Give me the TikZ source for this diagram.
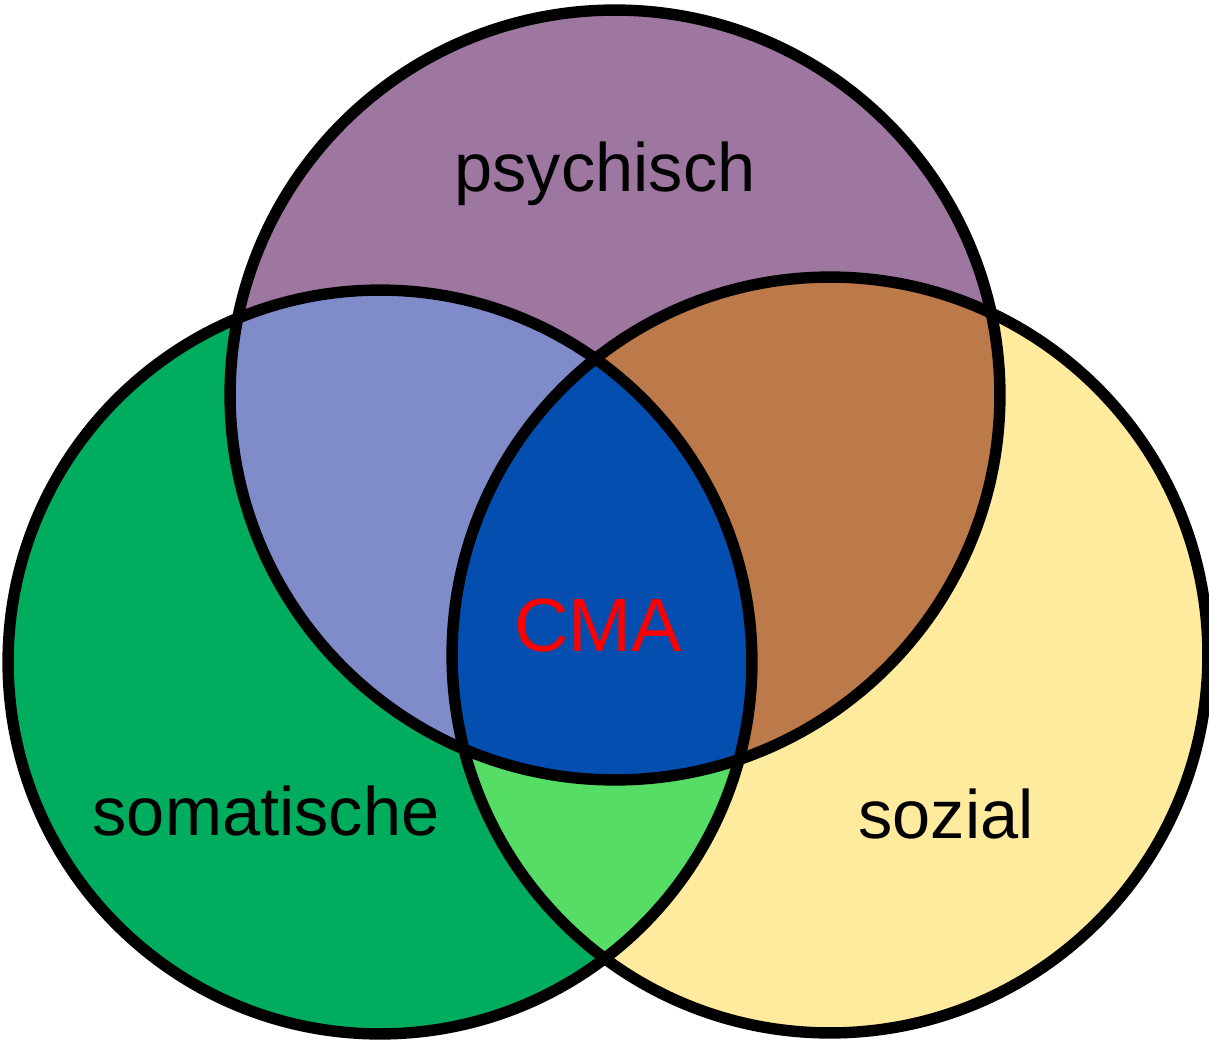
\documentclass[tikz,border=0pt]{standalone}
\usepackage{fontspec}
\setmainfont{Liberation Sans}
\begin{document}
\begin{tikzpicture}[x=0.02cm, y=-0.02cm,
  ring/.style={circle, draw=black, line width=6.5pt, inner sep=0pt, minimum size=#1},
  lbl/.style={font=\fontsize{39}{46}\selectfont, text=black, anchor=base, inner sep=0pt},
  core/.style={font=\fontsize{43}{50}\selectfont, text=red, anchor=base, inner sep=0pt}]
  \definecolor{cPsy}{HTML}{9E77A1}
  \definecolor{cSom}{HTML}{00AC5E}
  \definecolor{cSoz}{HTML}{FEEB9E}
  \definecolor{cPsySom}{HTML}{7F8CC9}
  \definecolor{cPsySoz}{HTML}{BC7A4B}
  \definecolor{cSomSoz}{HTML}{55DD66}
  \definecolor{cAll}{HTML}{034EAF}
  \useasboundingbox (0,0) rectangle (1209,1044);
  % circle centres
  \coordinate (cT) at (615,395);
  \coordinate (cL) at (380,662);
  \coordinate (cR) at (830,655);
  % single-set fills
  \fill[cSom] (cL) circle[radius=7.44cm];
  \fill[cSoz] (cR) circle[radius=7.56cm];
  \fill[cPsy] (cT) circle[radius=7.70cm];
  % pairwise overlaps
  \begin{scope}
    \clip (cL) circle[radius=7.44cm];
    \fill[cPsySom] (cT) circle[radius=7.70cm];
    \fill[cSomSoz] (cR) circle[radius=7.56cm];
  \end{scope}
  \begin{scope}
    \clip (cT) circle[radius=7.70cm];
    \fill[cPsySoz] (cR) circle[radius=7.56cm];
  \end{scope}
  % triple overlap
  \begin{scope}
    \clip (cL) circle[radius=7.44cm];
    \clip (cT) circle[radius=7.70cm];
    \fill[cAll] (cR) circle[radius=7.56cm];
  \end{scope}
  % outlines
  \node[ring=14.88cm] (som) at (cL) {};
  \node[ring=15.12cm] (soz) at (cR) {};
  \node[ring=15.40cm] (psy) at (cT) {};
  % labels
  \node[lbl] (tPsy) at (605,192) {psychisch};
  \node[lbl] (tSom) at (266,835) {somatische};
  \node[lbl] (tSoz) at (946,838) {sozial};
  \node[core] (tAll) at (598,651) {CMA};
\end{tikzpicture}
\end{document}
